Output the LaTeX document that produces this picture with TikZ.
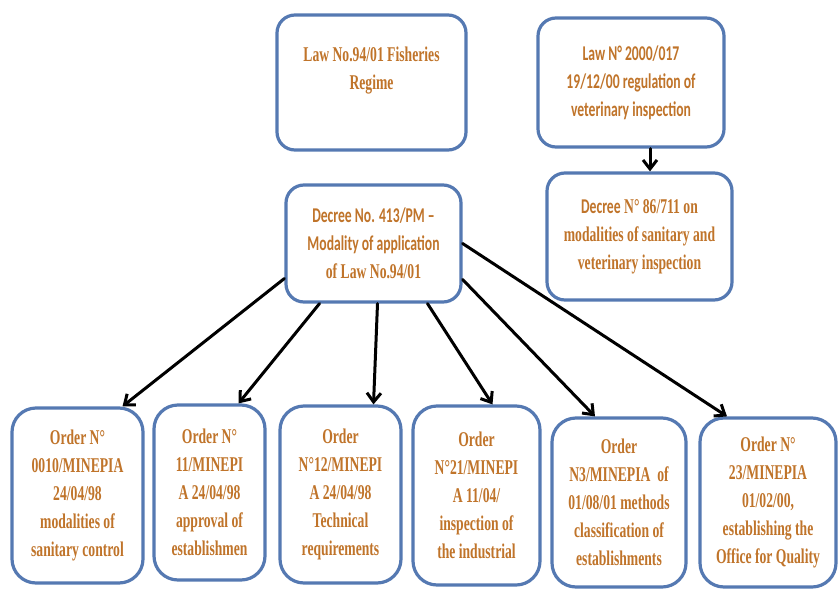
\documentclass[tikz,border=0pt]{standalone}
\usepackage{fontspec}
\setmainfont[FakeStretch=0.65,BoldFont={Liberation Serif Bold},BoldFeatures={FakeStretch=0.65}]{Liberation Serif}
\newfontfamily\calfont[FakeStretch=0.65,BoldFont={Carlito Bold},BoldFeatures={FakeStretch=0.65}]{Carlito}
\usetikzlibrary{arrows.meta}
\definecolor{boxblue}{HTML}{5579B2}
\definecolor{lawtext}{HTML}{C0742A}
\begin{document}
\begin{tikzpicture}[x=1pt,y=-1pt,line join=round,line cap=round,
	font=\bfseries\fontsize{21}{28}\selectfont,
	>={Straight Barb[length=9pt,width=14pt]},
	lawbox/.style={draw=boxblue,line width=3.2pt,fill=white,rounded corners=18pt,align=center,text=lawtext,inner sep=0pt},
	orderbox/.style={lawbox,rounded corners=24pt},
	calibri/.style={font=\calfont\bfseries\fontsize{21}{28}\selectfont},
	arr/.style={->,line width=3pt,black}]
	\useasboundingbox (0,0) rectangle (840,589);
	\node [lawbox,minimum width=189pt,minimum height=135pt] (law94) at (371.5,82.5) {Law No.94/01 Fisheries\\Regime\\ \mbox{}};
	\node [lawbox,calibri,minimum width=186pt,minimum height=129pt] (law2000) at (631,82.5) {Law N° 2000/017\\19/12/00 regulation of\\veterinary inspection};
	\node [lawbox,minimum width=185pt,minimum height=127pt] (decree86) at (639.5,236.5) {{\calfont Decree} N° 86/711 on\\modalities of sanitary and\\veterinary inspection};
	\node [lawbox,minimum width=175pt,minimum height=117pt] (decree413) at (373.5,243.5) {{\calfont Decree No. 413/PM –}\\{\calfont Modality of application}\\of Law No.94/01};
	\node [orderbox,minimum width=131pt,minimum height=175pt] (o1) at (77.5,495.5) {Order N°\\0010/MINEPIA\\24/04/98\\modalities of\\sanitary control};
	\node [orderbox,minimum width=111pt,minimum height=175pt] (o2) at (209.5,492.5) {Order N°\\11/MINEPI\\A 24/04/98\\approval of\\establishmen};
	\node [orderbox,minimum width=121pt,minimum height=177pt] (o3) at (340.5,494.5) {Order\\N°12/MINEPI\\A 24/04/98\\Technical\\requirements};
	\node [orderbox,minimum width=127pt,minimum height=179pt] (o4) at (476.5,495.5) {Order\\N°21/MINEPI\\A 11/04/\\inspection of\\the industrial};
	\node [orderbox,minimum width=134pt,minimum height=169pt] (o5) at (619,502.5) {Order\\N3/MINEPIA~ of\\01/08/01 methods\\classification of\\establishments};
	\node [orderbox,minimum width=136pt,minimum height=169pt] (o6) at (768,502.5) {Order N°\\23/MINEPIA\\01/02/00,\\establishing the\\Office for Quality};
	\draw [arr] ([xshift=19pt]law2000.south) -- ([xshift=19pt]law2000.south |- decree86.north);
	\draw [arr] ([yshift=-35pt]decree413.west) -- ([xshift=45pt]o1.north);
	\draw [arr] ([xshift=-54pt]decree413.south) -- ([xshift=29pt]o2.north);
	\draw [arr] ([xshift=4pt]decree413.south) -- ([xshift=33pt]o3.north);
	\draw [arr] ([xshift=54pt]decree413.south) -- ([xshift=16pt]o4.north);
	\draw [arr] ([yshift=-36pt]decree413.east) -- ([xshift=-24pt]o5.north);
	\draw [arr] (decree413.east) -- ([xshift=-41pt]o6.north);
\end{tikzpicture}
\end{document}
